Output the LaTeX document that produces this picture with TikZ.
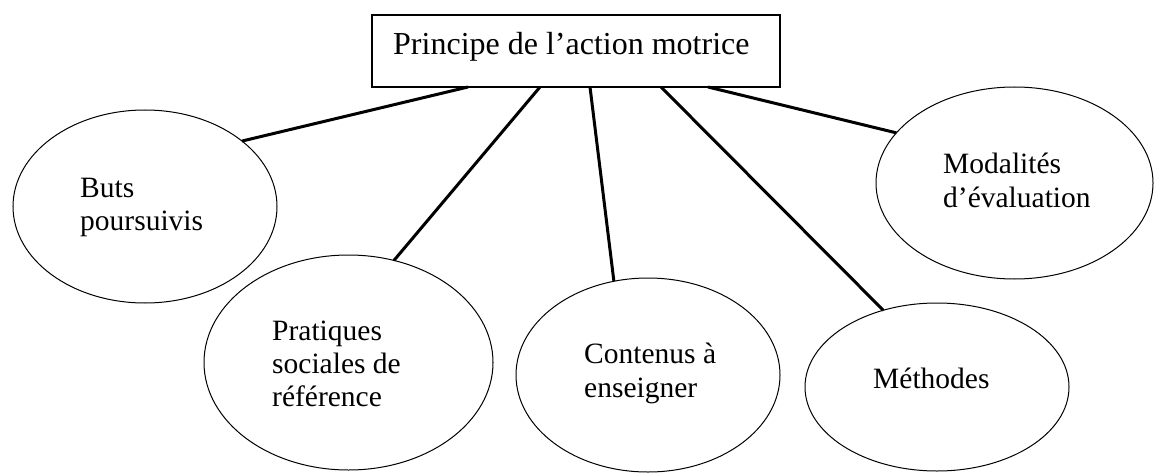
\documentclass[tikz,border=0pt]{standalone}
\usepackage{fontspec}
\setmainfont{Liberation Serif}
\usetikzlibrary{shapes.geometric}
\begin{document}
\begin{tikzpicture}[x=1pt,y=-1pt,
  topbox/.style={draw, line width=1.3pt, rectangle, minimum width=408pt, minimum height=72pt, inner sep=0pt, outer sep=0pt},
  bubble/.style={draw, line width=1pt, ellipse, inner sep=0pt, outer sep=0pt},
  lbl/.style={anchor=base west, inner sep=0pt, font=\fontsize{29.5}{33}\selectfont},
  toplbl/.style={anchor=base west, inner sep=0pt, font=\fontsize{32}{38}\selectfont},
  link/.style={line width=3pt}]
\useasboundingbox (0,0) rectangle (1155,473);
% top box
\node[topbox] (top) at (576,51) {};
\node[toplbl] (toptext) at (393,55) {Principe de l’action motrice};
% ellipses
\node[bubble, minimum width=264pt, minimum height=193pt] (e1) at (145,206.5) {};
\node[bubble, minimum width=289pt, minimum height=215pt] (e2) at (348.5,362.5) {};
\node[bubble, minimum width=264pt, minimum height=194pt] (e3) at (648,375) {};
\node[bubble, minimum width=264pt, minimum height=168pt] (e4) at (937,387) {};
\node[bubble, minimum width=277pt, minimum height=192pt] (e5) at (1014.5,183) {};
% texts
\node[lbl] (e1a) at (80,197) {Buts};
\node[lbl] (e1b) at (80,230) {poursuivis};
\node[lbl] (e2a) at (272,340) {Pratiques};
\node[lbl] (e2b) at (272,373) {sociales de};
\node[lbl] (e2c) at (272,406) {référence};
\node[lbl] (e3a) at (584,363) {Contenus à};
\node[lbl] (e3b) at (584,397) {enseigner};
\node[lbl] (e4a) at (873,388) {Méthodes};
\node[lbl] (e5a) at (943,173) {Modalités};
\node[lbl] (e5b) at (943,207) {d’évaluation};
% connectors
\draw[link] ([xshift=96pt]top.south west) -- (e1.34);
\draw[link] ([xshift=168pt]top.south west) -- (e2.66);
\draw[link] ([xshift=218pt]top.south west) -- (e3.110);
\draw[link] ([xshift=289pt]top.south west) -- (e4.125);
\draw[link] ([xshift=336pt]top.south west) -- (e5.157);
\end{tikzpicture}
\end{document}
